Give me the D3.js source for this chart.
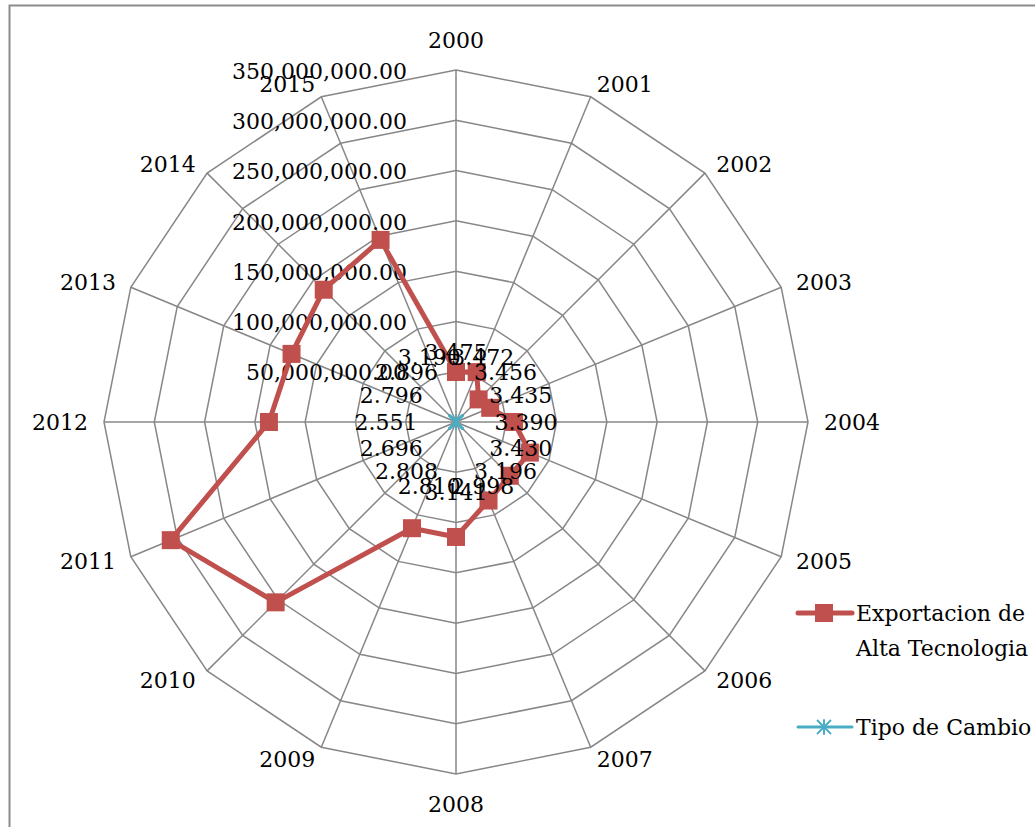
<!DOCTYPE html>
<html>
<head>
<meta charset="utf-8">
<script src="https://cdn.jsdelivr.net/npm/d3@7"></script>
<style>
  html, body { margin: 0; padding: 0; background: #fff; }
  svg text { font-family: "DejaVu Serif", serif; fill: #000; }
</style>
</head>
<body>
<svg id="chart" width="1035" height="827"></svg>
<script>
// Years around the radar, clockwise from the top
const years = ["2000","2001","2002","2003","2004","2005","2006","2007",
               "2008","2009","2010","2011","2012","2013","2014","2015"];

// High-technology exports (US$)
const exportacion = [49.7e6, 53.7e6, 31.8e6, 36.8e6, 57.7e6, 79.5e6, 75.6e6, 84.5e6,
                     114.3e6, 114.3e6, 253.6e6, 307e6, 186e6, 177e6, 186e6, 196e6];

// Exchange rate (soles per dollar)
const tipoCambio = [3.475, 3.472, 3.456, 3.435, 3.390, 3.430, 3.196, 2.998,
                    3.141, 2.810, 2.808, 2.696, 2.551, 2.796, 2.896, 3.190];

// Radial value axis ticks
const ringTicks = [50e6, 100e6, 150e6, 200e6, 250e6, 300e6, 350e6];

const seriesNames = ["Exportacion de\nAlta Tecnologia", "Tipo de Cambio"];
const colors = { exp: "#C0504D", tc: "#4BACC6", grid: "#878787" };

const svg = d3.select("#chart");
const cx = 456, cy = 422, R = 352;

// chart area frame
svg.append("rect")
  .attr("x", 9.5).attr("y", 5.5).attr("width", 1200).attr("height", 1000)
  .attr("fill", "none").attr("stroke", "#8c8c8c").attr("stroke-width", 2);

const r = d3.scaleLinear().domain([0, 350e6]).range([0, R]);
const angle = d3.scaleLinear().domain([0, years.length]).range([0, 2 * Math.PI]);

const g = svg.append("g").attr("transform", `translate(${cx},${cy})`);
const pt = (i, rad) => [rad * Math.sin(angle(i)), -rad * Math.cos(angle(i))];

// concentric polygon rings
const ringLine = d3.lineRadial()
  .angle((d, i) => angle(i))
  .radius(d => d)
  .curve(d3.curveLinearClosed);

g.selectAll("path.ring").data(ringTicks).join("path")
  .attr("class", "ring")
  .attr("d", t => ringLine(years.map(() => r(t))))
  .attr("fill", "none").attr("stroke", colors.grid).attr("stroke-width", 1.5);

// spokes
g.selectAll("line.spoke").data(years).join("line")
  .attr("class", "spoke")
  .attr("x1", 0).attr("y1", 0)
  .attr("x2", (d, i) => pt(i, R)[0]).attr("y2", (d, i) => pt(i, R)[1])
  .attr("stroke", colors.grid).attr("stroke-width", 1.5);

// value axis labels, to the left of the vertical spoke
const fmt = d3.format(",.2f");
g.selectAll("text.tick").data(ringTicks).join("text")
  .attr("class", "tick")
  .attr("x", -49).attr("y", t => -r(t) + 1)
  .attr("text-anchor", "end").attr("dy", "0.35em")
  .style("font-size", "22px")
  .text(t => fmt(t));

// category labels around the outside
const cats = g.selectAll("text.cat").data(years).join("text")
  .attr("class", "cat")
  .attr("text-anchor", "middle").attr("dy", "0.35em")
  .style("font-size", "22px")
  .text(d => d);
cats.each(function (d, i) {
  const w = this.getComputedTextLength();
  const sx = Math.sin(angle(i)), sy = -Math.cos(angle(i));
  const [vx, vy] = pt(i, R);
  const side = Math.abs(sx) < 0.01 ? 0 : Math.sign(sx);
  const ox = 16 * sx + side * w / 2;
  const oy = 13 * sy + (side === 0 ? 17 * Math.sign(sy) : 0);
  d3.select(this).attr("x", vx + ox).attr("y", vy + oy);
});

// exports series: closed polygon with square markers
const expLine = d3.lineRadial()
  .angle((d, i) => angle(i))
  .radius(d => r(d))
  .curve(d3.curveLinearClosed);

g.append("path")
  .attr("d", expLine(exportacion))
  .attr("fill", "none").attr("stroke", colors.exp)
  .attr("stroke-width", 5).attr("stroke-linejoin", "round");

const ms = 18;
g.selectAll("rect.mk").data(exportacion).join("rect")
  .attr("class", "mk")
  .attr("x", (d, i) => pt(i, r(d))[0] - ms / 2)
  .attr("y", (d, i) => pt(i, r(d))[1] - ms / 2)
  .attr("width", ms).attr("height", ms)
  .attr("fill", colors.exp);

// exchange-rate series (tiny on this scale) with star markers
g.append("path")
  .attr("d", expLine(tipoCambio))
  .attr("fill", "none").attr("stroke", colors.tc).attr("stroke-width", 3);

function star(sel, x, y, s) {
  const gs = sel.append("g").attr("transform", `translate(${x},${y})`)
    .attr("stroke", colors.tc).attr("stroke-width", 2);
  gs.append("line").attr("x1", -s).attr("y1", -s).attr("x2", s).attr("y2", s);
  gs.append("line").attr("x1", -s).attr("y1", s).attr("x2", s).attr("y2", -s);
  gs.append("line").attr("x1", 0).attr("y1", -s * 1.1).attr("x2", 0).attr("y2", s * 1.1);
}
tipoCambio.forEach((d, i) => {
  const [x, y] = pt(i, r(d));
  star(g, x, y, 7);
});

// exchange-rate data labels
g.selectAll("text.lbl").data(tipoCambio).join("text")
  .attr("class", "lbl")
  .attr("x", (d, i) => pt(i, r(d) + 70)[0])
  .attr("y", (d, i) => pt(i, r(d) + 70)[1])
  .attr("text-anchor", "middle").attr("dy", "0.35em")
  .style("font-size", "22px")
  .text(d => d.toFixed(3));

// legend
const lg = svg.append("g");
lg.append("line").attr("x1", 798).attr("x2", 852).attr("y1", 613).attr("y2", 613)
  .attr("stroke", colors.exp).attr("stroke-width", 5).attr("stroke-linecap", "round");
lg.append("rect").attr("x", 824 - ms / 2).attr("y", 613 - ms / 2)
  .attr("width", ms).attr("height", ms).attr("fill", colors.exp);
const t1 = lg.append("text").attr("x", 856).attr("y", 613).attr("dy", "0.35em")
  .style("font-size", "22px");
seriesNames[0].split("\n").forEach((s, k) => {
  t1.append("tspan").attr("x", 856).attr("dy", k === 0 ? "0.35em" : "1.6em").text(s);
});

lg.append("line").attr("x1", 798).attr("x2", 852).attr("y1", 727).attr("y2", 727)
  .attr("stroke", colors.tc).attr("stroke-width", 3).attr("stroke-linecap", "round");
star(lg, 824, 727, 7);
lg.append("text").attr("x", 856).attr("y", 727).attr("dy", "0.35em")
  .style("font-size", "22px").text(seriesNames[1]);
</script>
</body>
</html>
